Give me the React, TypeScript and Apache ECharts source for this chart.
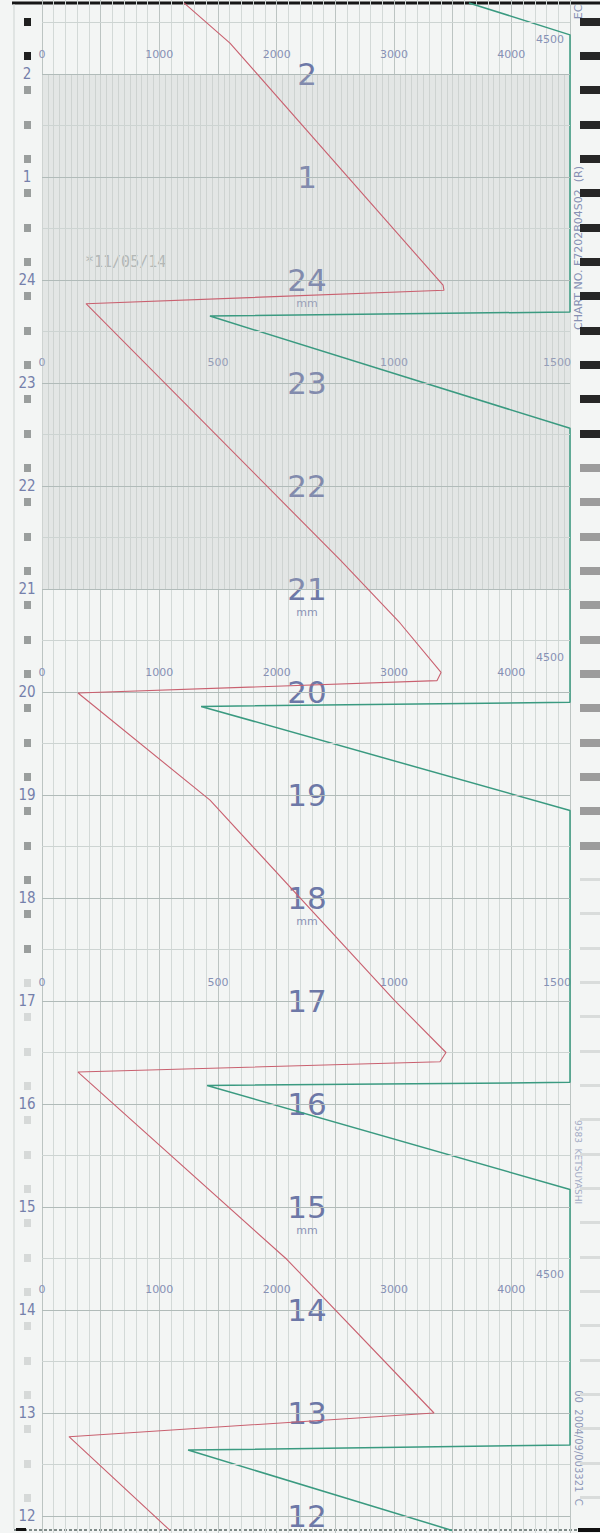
import React, { useEffect, useRef } from 'react';
import * as echarts from 'echarts';

// ---------- data (hours: 26 = 2 o'clock of the next day) ----------
const hourLabels = [12, 13, 14, 15, 16, 17, 18, 19, 20, 21, 22, 23, 24, 25, 26];
const halfHourLines = [12.5, 13.5, 14.5, 15.5, 16.5, 17.5, 18.5, 19.5, 20.5, 21.5, 22.5, 23.5, 24.5, 25.5, 26.5];
const mmHours = [15, 18, 21, 24];
const redScaleTicks = [0, 1000, 2000, 3000, 4000, 4500];
const greenScaleTicks = [0, 500, 1000, 1500];
const redScaleRowHours = [26.19, 20.19, 14.2];
const greenScaleRowHours = [23.2, 17.18];
const markerOffsets = [0.18, 0.51, 0.85];
const nightBand = [21, 26];

// red pen: [value on 0-4500 scale, hour]
const redTrace = [
  [1091, 11.86],
  [230, 12.77],
  [3341, 13.0],
  [2088, 14.49],
  [307, 16.31],
  [3392, 16.41],
  [3443, 16.5],
  [3000, 17.01],
  [1432, 18.95],
  [307, 19.99],
  [3366, 20.11],
  [3401, 20.19],
  [3051, 20.67],
  [2543, 21.28],
  [375, 23.77],
  [3426, 23.9],
  [3418, 23.95],
  [1602, 26.3],
  [1210, 26.69],
];

// green pen: [value on 0-1500 scale (pinned at full scale), hour]
const greenTrace = [
  [1165, 11.86],
  [415, 12.64],
  [1500, 12.69],
  [1500, 15.17],
  [469, 16.18],
  [1500, 16.21],
  [1500, 18.85],
  [452, 19.86],
  [1500, 19.9],
  [1500, 22.56],
  [477, 23.65],
  [1500, 23.69],
  [1500, 26.38],
  [1213, 26.69],
];

// ---------- geometry ----------
const W = 600;
const H = 1533;
const PLOT_LEFT = 42;
const PLOT_RIGHT = 570;
const Y_AT_26 = 74;
const PX_PER_HOUR = 103;
const T_MAX = 26 + Y_AT_26 / PX_PER_HOUR; // time at the top pixel row
const T_MIN = 26 - (H - Y_AT_26) / PX_PER_HOUR; // time at the bottom pixel row
const T_TOP = 26.69;
const T_BOTTOM = 11.86;
const yOf = (t: number) => Y_AT_26 + (26 - t) * PX_PER_HOUR;

const FONT = 'DejaVu Sans';
const SCALE_COLOR = '#8791b5';
const HOUR_COLOR = '#6d78a7';
const NO_LINE = { show: false, onZero: false };

const markerTimes: number[] = [];
for (let h = 11; h <= 26; h++) {
  for (const o of markerOffsets) {
    const t = +(h + o).toFixed(2);
    if (t >= T_BOTTOM && t <= T_TOP) markerTimes.push(t);
  }
}

const hiddenY = (extra: any) => ({
  type: 'value',
  gridIndex: 0,
  min: T_MIN,
  max: T_MAX,
  axisLine: NO_LINE,
  axisTick: { show: false },
  axisLabel: { show: false },
  splitLine: { show: false },
  ...extra,
});

const tickMarkAxis = (position: string, offset: number, values: number[], length: number, width: number, color: string) =>
  hiddenY({
    position,
    offset,
    axisTick: { show: true, customValues: values, length, lineStyle: { width, color } },
  });

const rowAxis = (t: number, ticks: number[], max: number, lastPad: number[]) => ({
  type: 'value',
  gridIndex: 0,
  position: 'top',
  offset: -yOf(t),
  min: 0,
  max,
  axisLine: NO_LINE,
  axisTick: { show: false },
  splitLine: { show: false },
  axisLabel: {
    show: true,
    customValues: ticks,
    margin: 0,
    verticalAlign: 'middle',
    color: SCALE_COLOR,
    fontSize: 11,
    fontFamily: FONT,
    formatter: (v: number) => (v === max ? `{e|${v}}` : `${v}`),
    rich: { e: { padding: lastPad, color: SCALE_COLOR, fontSize: 11, fontFamily: FONT } },
  },
});

const gridLine = (values: number[], color: string) =>
  values.map((v) => ({ yAxis: v, lineStyle: { color, width: 1, type: 'solid' } }));

const option: any = {
  animation: false,
  backgroundColor: '#f3f5f4',
  grid: [
    { left: PLOT_LEFT, right: W - PLOT_RIGHT, top: 0, bottom: 0 },
    { left: PLOT_LEFT, right: W - PLOT_RIGHT, top: yOf(nightBand[1]), height: (nightBand[1] - nightBand[0]) * PX_PER_HOUR },
  ],
  xAxis: [
    {
      type: 'value', gridIndex: 0, position: 'top', min: 0, max: 4500, interval: 500,
      axisLine: NO_LINE, axisTick: { show: false }, axisLabel: { show: false },
      splitLine: { show: true, lineStyle: { color: '#bcc4c2', width: 1 } },
      minorTick: { show: false, splitNumber: 5 },
      minorSplitLine: { show: true, lineStyle: { color: '#d3d9d7', width: 1 } },
    },
    { type: 'value', gridIndex: 0, min: 0, max: 1500, show: false, axisLine: NO_LINE },
    ...redScaleRowHours.map((t) => rowAxis(t, redScaleTicks, 4500, [0, 40, 30, 0])),
    ...greenScaleRowHours.map((t) => rowAxis(t, greenScaleTicks, 1500, [0, 26, 0, 0])),
    {
      type: 'value', gridIndex: 1, min: 0, max: 4500, interval: 50,
      axisLine: NO_LINE, axisTick: { show: false }, axisLabel: { show: false },
      splitLine: { show: true, lineStyle: { color: '#d6dbd9', width: 1 } },
    },
  ],
  yAxis: [
    hiddenY({}),
    hiddenY({
      position: 'left',
      offset: PLOT_LEFT - 27,
      axisLabel: {
        show: true, customValues: hourLabels, margin: 0, align: 'center', verticalAlign: 'middle',
        color: '#7580ab', fontSize: 15, fontFamily: 'DejaVu Sans Condensed',
        formatter: (v: number) => `${v > 24 ? v - 24 : v}`,
      },
    }),
    hiddenY({
      position: 'left',
      offset: -(307 - PLOT_LEFT),
      axisLabel: {
        show: true, customValues: hourLabels, margin: 0, align: 'center', verticalAlign: 'middle',
        formatter: (v: number) => {
          const h = v > 24 ? v - 24 : v;
          return mmHours.includes(v) ? `{s| }\n{n|${h}}\n{u|mm}` : `{n|${h}}`;
        },
        rich: {
          n: { fontSize: 31, lineHeight: 34, color: HOUR_COLOR, fontFamily: FONT },
          u: { fontSize: 11, lineHeight: 12, color: '#8a93b4', fontFamily: FONT },
          s: { fontSize: 11, lineHeight: 12 },
        },
      },
    }),
    tickMarkAxis('left', PLOT_LEFT - 31, markerTimes.filter((t) => t > 26), 7, 8, '#1f1f1f'),
    tickMarkAxis('left', PLOT_LEFT - 31, markerTimes.filter((t) => t > 17.5 && t < 26), 7, 8, '#9a9e9d'),
    tickMarkAxis('left', PLOT_LEFT - 31, markerTimes.filter((t) => t <= 17.5), 7, 8, '#d6d9d8'),
    tickMarkAxis('right', 580 - PLOT_RIGHT, markerTimes.filter((t) => t >= 22.4), 20, 8, '#262626'),
    tickMarkAxis('right', 580 - PLOT_RIGHT, markerTimes.filter((t) => t >= 18.2 && t < 22.4), 20, 8, '#9c9c9c'),
    tickMarkAxis('right', 580 - PLOT_RIGHT, markerTimes.filter((t) => t < 18.2), 20, 3, '#d9dcdb'),
    { type: 'value', gridIndex: 1, min: 0, max: 1, show: false, axisLine: NO_LINE },
  ],
  series: [
    {
      type: 'line', name: 'grid', xAxisIndex: 0, yAxisIndex: 0, data: [], z: 1,
      markArea: {
        silent: true,
        itemStyle: { color: 'rgba(185,192,190,0.28)' },
        data: [[{ yAxis: nightBand[0] }, { yAxis: nightBand[1] }]],
      },
      markLine: {
        silent: true,
        symbol: ['none', 'none'],
        label: { show: false },
        data: [...gridLine(halfHourLines, '#cdd4d2'), ...gridLine(hourLabels, '#b1bbb9')],
      },
    },
    {
      type: 'line', name: 'red', xAxisIndex: 0, yAxisIndex: 0, data: redTrace,
      showSymbol: false, symbol: 'none', z: 5,
      lineStyle: { color: '#c9606f', width: 1.1 },
    },
    {
      type: 'line', name: 'green', xAxisIndex: 1, yAxisIndex: 0, data: greenTrace,
      showSymbol: false, symbol: 'none', z: 4,
      lineStyle: { color: '#3a9a80', width: 1.5 },
    },
  ],
  graphic: [
    { type: 'line', shape: { x1: 12, y1: 3, x2: 600, y2: 3 }, style: { stroke: '#161616', lineWidth: 3 } },
    { type: 'line', shape: { x1: 14, y1: 1530, x2: 590, y2: 1530 }, style: { stroke: '#7f8b88', lineWidth: 2, lineDash: [3, 2] } },
    { type: 'rect', shape: { x: 16, y: 1528, width: 10, height: 3 }, style: { fill: '#111' } },
    { type: 'rect', shape: { x: 578, y: 1528, width: 22, height: 4 }, style: { fill: '#111' } },
    { type: 'line', shape: { x1: 14, y1: 4, x2: 14, y2: 1529 }, style: { stroke: '#cdd3d1', lineWidth: 1 } },
    { type: 'text', x: 85, y: 262, style: { text: '*11/05/14', fill: '#b1b6b5', font: '15px "DejaVu Sans Mono"', verticalAlign: 'middle' } },
    { type: 'text', x: 578, y: 248, rotation: Math.PI / 2, style: { text: 'CHART NO. F7202B04S02  (R)', fill: '#8690b3', font: '11px "DejaVu Sans"', align: 'center', verticalAlign: 'middle' } },
    { type: 'text', x: 578, y: 12, rotation: Math.PI / 2, style: { text: 'EC', fill: '#8690b3', font: '11px "DejaVu Sans"', align: 'center', verticalAlign: 'middle' } },
    { type: 'text', x: 578, y: 1162, rotation: -Math.PI / 2, style: { text: '9583  KETSUYASHI', fill: '#a3abc4', font: '9px "DejaVu Sans"', align: 'center', verticalAlign: 'middle' } },
    { type: 'text', x: 578, y: 1448, rotation: -Math.PI / 2, style: { text: '00  2004/09/003321  C', fill: '#8f98b8', font: '10px "DejaVu Sans"', align: 'center', verticalAlign: 'middle' } },
  ],
};

export default function App() {
  const ref = useRef<HTMLDivElement>(null);
  useEffect(() => {
    const chart = echarts.init(ref.current as HTMLDivElement, undefined, { renderer: 'svg' });
    chart.setOption(option);
    return () => chart.dispose();
  }, []);
  return <div ref={ref} style={{ position: 'absolute', left: 0, top: 0, width: W, height: H }} />;
}
